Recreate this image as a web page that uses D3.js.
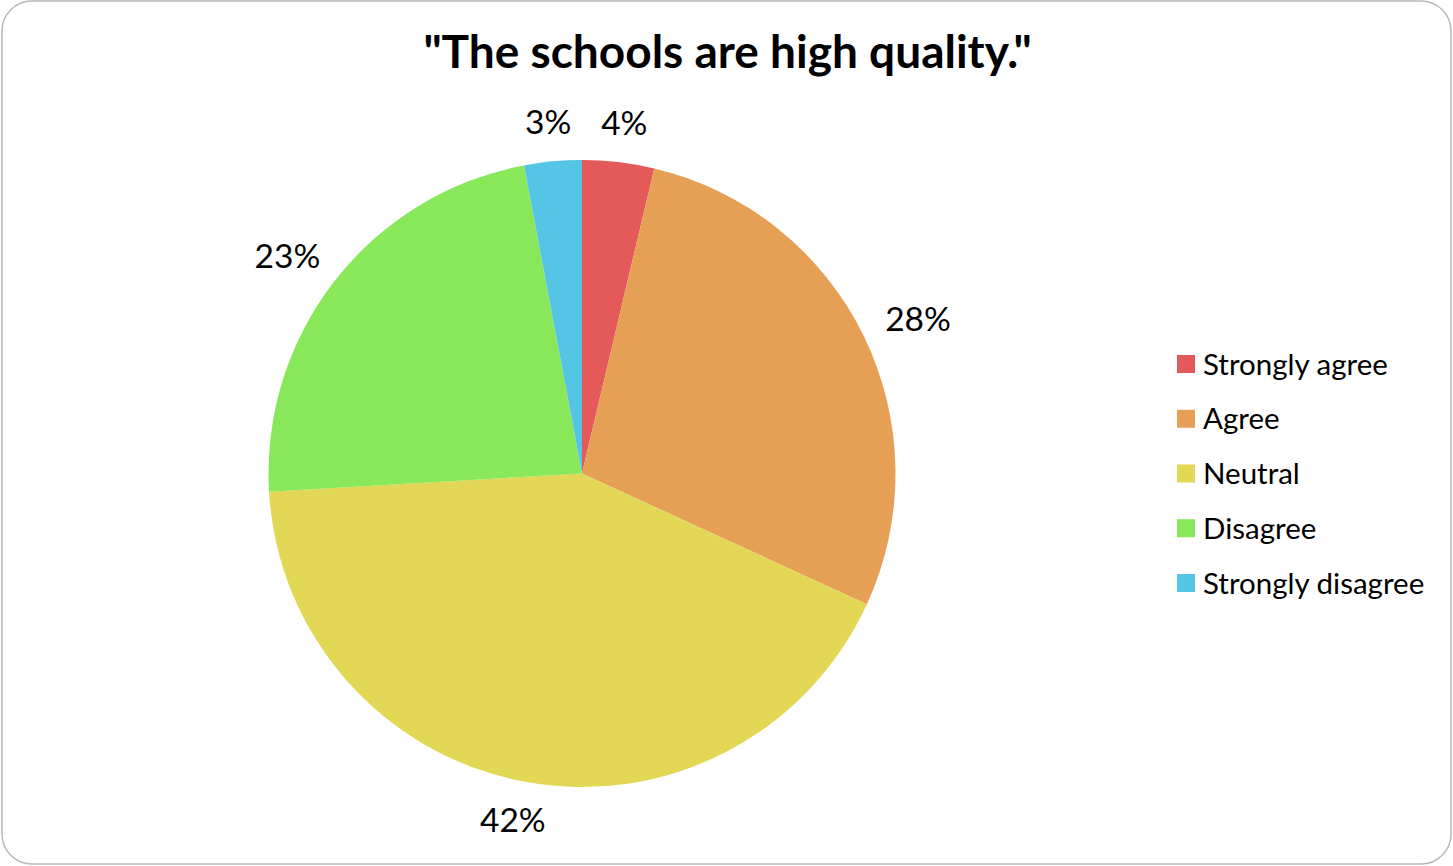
<!DOCTYPE html>
<html>
<head>
<meta charset="utf-8">
<script src="https://cdn.jsdelivr.net/npm/d3@7"></script>
<style>
  html, body { margin: 0; padding: 0; background: #fff; }
  svg { display: block; }
</style>
</head>
<body>
<svg id="chart" width="1453" height="866"></svg>
<script>
const title = '"The schools are high quality."';
const categories = ["Strongly agree", "Agree", "Neutral", "Disagree", "Strongly disagree"];
const counts = [5, 38, 57, 31, 4];
const colors = ["#E45A5A", "#E5A055", "#E2D856", "#89E85A", "#55C4E5"];

const W = 1453, H = 866;
const svg = d3.select("#chart");
const font = "Lato, 'Open Sans', sans-serif";

svg.append("rect")
  .attr("x", 2).attr("y", 1).attr("width", W - 4).attr("height", H - 3)
  .attr("rx", 30).attr("ry", 30)
  .attr("fill", "#fff").attr("stroke", "#b8b8b8").attr("stroke-width", 1.5);

svg.append("text")
  .attr("x", 727.5).attr("y", 68)
  .attr("text-anchor", "middle")
  .attr("font-family", font).attr("font-weight", 700).attr("font-size", 46)
  .attr("fill", "#000")
  .text(title);

const cx = 582, cy = 473.5, r = 313.5;
const total = d3.sum(counts);
const data = categories.map((c, i) => ({ cat: c, value: counts[i], color: colors[i] }));
const pie = d3.pie().value(d => d.value).sort(null);
const arcs = pie(data);
const arc = d3.arc().innerRadius(0).outerRadius(r);

const g = svg.append("g").attr("transform", `translate(${cx},${cy})`);
g.selectAll("path").data(arcs).join("path")
  .attr("d", arc)
  .attr("fill", d => d.data.color);

const fmt = d => Math.round(d.data.value / total * 100) + "%";
const labelSize = 33.5, gap = 27.5;
const capH = labelSize * 0.7165;
const labels = g.selectAll("text.lbl").data(arcs).join("text")
  .attr("class", "lbl")
  .attr("font-family", font).attr("font-size", labelSize)
  .attr("fill", "#000")
  .attr("text-anchor", "middle")
  .text(fmt);
labels.each(function(d) {
  const a = (d.startAngle + d.endAngle) / 2;
  const sx = Math.sin(a), sy = -Math.cos(a);
  const w = this.getComputedTextLength();
  const R = r + gap;
  const x = sx * R + sx * w / 2;
  const y = sy * R + sy * capH / 2;
  d3.select(this).attr("x", x).attr("y", y + capH / 2);
});

const legend = svg.append("g");
const ly = d3.scalePoint().domain(categories).range([364, 583]);
const items = legend.selectAll("g").data(data).join("g")
  .attr("transform", d => `translate(1177,${ly(d.cat)})`);
items.append("rect")
  .attr("x", 0).attr("y", -9).attr("width", 18).attr("height", 18)
  .attr("fill", d => d.color);
items.append("text")
  .attr("x", 26).attr("y", 29.5 * 0.7165 / 2)
  .attr("font-family", font).attr("font-size", 29.5)
  .attr("fill", "#000")
  .text(d => d.cat);
</script>
</body>
</html>
